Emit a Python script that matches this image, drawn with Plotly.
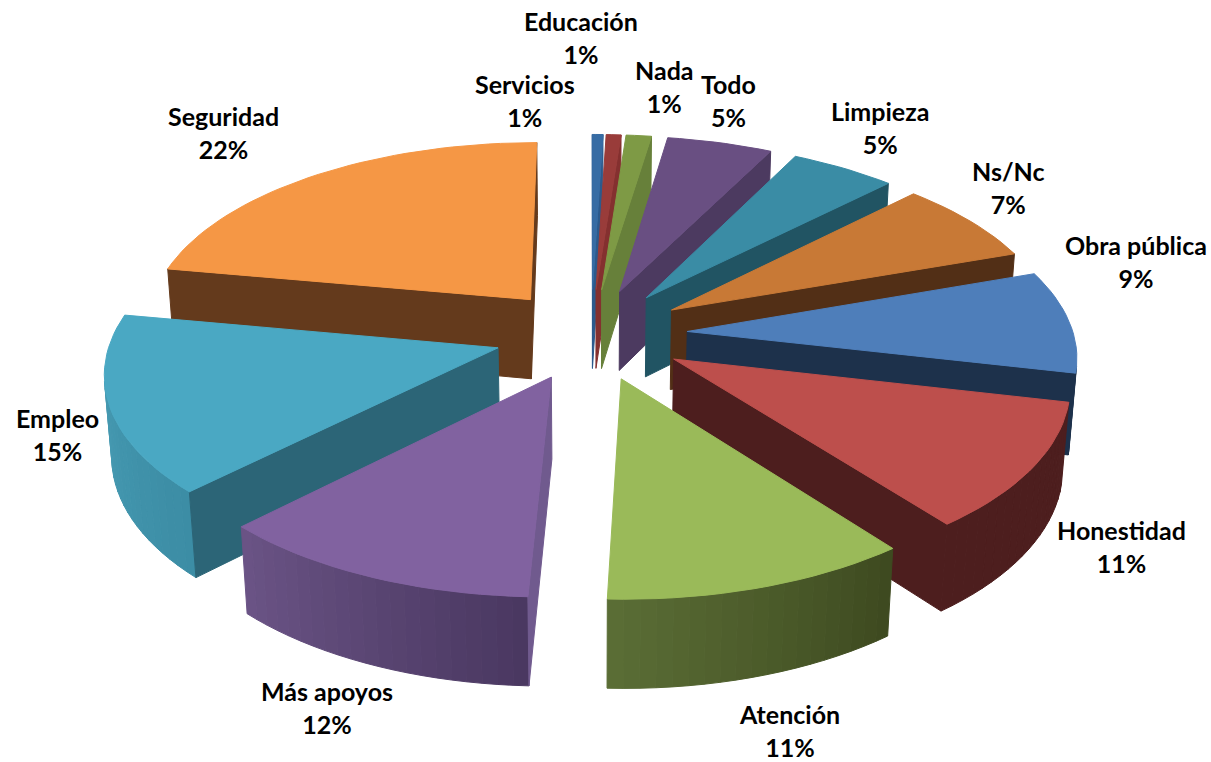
import numpy as np
import plotly.graph_objects as go

categories = ["Servicios", "Educación", "Nada", "Todo", "Limpieza", "Ns/Nc", "Obra pública",
              "Honestidad", "Atención", "Más apoyos", "Empleo", "Seguridad"]
shares = [0.5, 0.7, 1.2, 5.0, 5, 7.15, 8.85, 10.9, 11.03, 11.77, 15.3, 22]
pct_labels = ["1%", "1%", "1%", "5%", "5%", "7%", "9%", "11%", "11%", "12%", "15%", "22%"]

top_colors = ["#376ca4", "#993c3a", "#7e9a45", "#694f82", "#3a8ca5", "#c87936",
              "#4e7eba", "#bd4f4c", "#9aba59", "#8162a0", "#4aa8c3", "#f59745"]
cut_colors = ["#2c5a8c", "#84302f", "#67803a", "#4c3a60", "#215463", "#522f16",
              "#1d314b", "#4d1e1e", "#3e4a20", "#705a8e", "#2c6577", "#643a1c"]
wall_a = ["#2c5a8c", "#84302f", "#67803a", "#4c3a60", "#215463", "#522f16",
          "#1d314b", "#4d1e1e", "#3e4a20", "#4a3861", "#3c8da5", "#643a1c"]
wall_b = ["#2c5a8c", "#84302f", "#67803a", "#4c3a60", "#215463", "#522f16",
          "#1d314b", "#4d1e1e", "#5a6d35", "#6a5385", "#4aa0b8", "#643a1c"]
label_xy = [(525, 100), (581, 37), (664, 86), (728, 100), (880, 127), (1008, 187),
            (1136, 261), (1121, 546), (789, 730), (327, 707), (57, 434), (223, 132)]

W, H = 1211, 762
CX, CY = 591, 334
F, D = 2896.0, 7.5
ELEV = np.radians(28.3)
EXPLODE, THICK = 0.25, 0.24
CAM = np.array([0.0, -D * np.cos(ELEV), D * np.sin(ELEV)])


def project(X, Y, Z):
    v = Y * np.sin(ELEV) + Z * np.cos(ELEV)
    w = D + Y * np.cos(ELEV) - Z * np.sin(ELEV)
    return CX + F * X / w, CY - F * v / w


def mix(c1, c2, t):
    a = [int(c1[i:i + 2], 16) for i in (1, 3, 5)]
    b = [int(c2[i:i + 2], 16) for i in (1, 3, 5)]
    return "#%02x%02x%02x" % tuple(round(p + (q - p) * t) for p, q in zip(a, b))


def poly(fig, pts, color):
    xs, ys = project(*np.array(pts).T)
    fig.add_trace(go.Scatter(x=np.append(xs, xs[0]), y=np.append(ys, ys[0]), mode="lines", fill="toself",
                             fillcolor=color, line=dict(color=color, width=1),
                             hoverinfo="skip", showlegend=False))


def faces_camera(point, normal):
    return np.dot(CAM - np.array(point), np.array(normal)) > 0


edges = np.radians(np.cumsum([0] + shares) / sum(shares) * 360)
mids = (edges[:-1] + edges[1:]) / 2
order = np.argsort([-np.cos(m) for m in mids])

fig = go.Figure()
for i in order:
    t0, t1, m = edges[i], edges[i + 1], mids[i]
    ox, oy = EXPLODE * np.sin(m), EXPLODE * np.cos(m)
    n = max(3, int((t1 - t0) / np.radians(2)))
    th = np.linspace(t0, t1, n + 1)
    ax, ay = ox + np.sin(th), oy + np.cos(th)
    for k in range(n):
        tm = (th[k] + th[k + 1]) / 2
        if faces_camera((ax[k], ay[k], 0), (np.sin(tm), np.cos(tm), 0)):
            pts = [(ax[k], ay[k], 0), (ax[k + 1], ay[k + 1], 0),
                   (ax[k + 1], ay[k + 1], -THICK), (ax[k], ay[k], -THICK)]
            poly(fig, pts, mix(wall_a[i], wall_b[i], k / max(n - 1, 1)))
    for idx, normal in ((0, (-np.cos(t0), np.sin(t0), 0)), (n, (np.cos(t1), -np.sin(t1), 0))):
        if faces_camera((ox, oy, 0), normal):
            poly(fig, [(ox, oy, 0), (ax[idx], ay[idx], 0), (ax[idx], ay[idx], -THICK), (ox, oy, -THICK)],
                 cut_colors[i])
    poly(fig, [(ox, oy, 0)] + list(zip(ax, ay, np.zeros(n + 1))), top_colors[i])

for name, pct, (lx, ly) in zip(categories, pct_labels, label_xy):
    fig.add_annotation(x=lx, y=ly, xref="x", yref="y", text=f"<b>{name}<br>{pct}</b>", showarrow=False,
                       font=dict(family="Lato", size=25, color="#000000"), align="center")

fig.update_xaxes(range=[0, W], visible=False, fixedrange=True)
fig.update_yaxes(range=[H, 0], visible=False, fixedrange=True)
fig.update_layout(width=W, height=H, margin=dict(l=0, r=0, t=0, b=0),
                  paper_bgcolor="#ffffff", plot_bgcolor="#ffffff", showlegend=False)
fig.write_html("out.html", post_script="document.body.style.margin='0';document.body.style.overflow='hidden';",
               config={"displayModeBar": False})
